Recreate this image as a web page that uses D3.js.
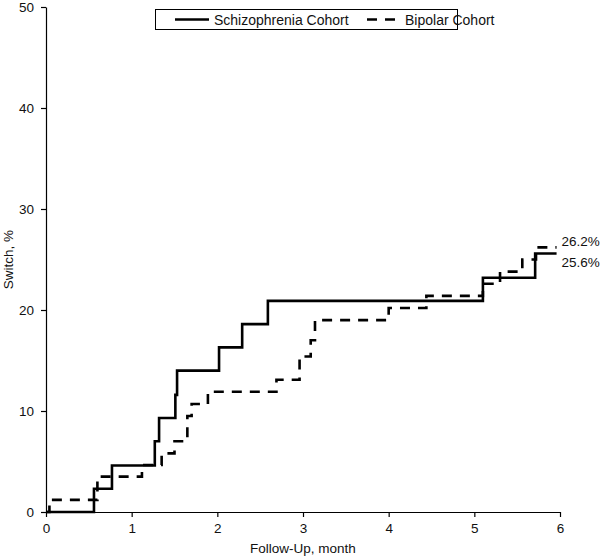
<!DOCTYPE html>
<html>
<head>
<meta charset="utf-8">
<script src="https://cdn.jsdelivr.net/npm/d3@7"></script>
<style>
  html, body { margin: 0; padding: 0; background: #fff; }
  svg { display: block; font-family: "Liberation Sans", Arial, Helvetica, sans-serif; }
</style>
</head>
<body>
<svg id="chart" width="600" height="557"></svg>
<script>
// ---- Data ----
const seriesNames = ["Schizophrenia Cohort", "Bipolar Cohort"];
const schizoTimes  = [0, 0.56, 0.77, 1.27, 1.32, 1.51, 1.53, 2.02, 2.29, 2.59, 5.10, 5.71, 5.96];
const schizoValues = [0, 2.3, 4.6, 7.0, 9.3, 11.6, 14.0, 16.3, 18.6, 20.9, 23.2, 25.6, 25.6];
const bipolarTimes  = [0, 0.04, 0.60, 1.12, 1.35, 1.50, 1.65, 1.70, 1.89, 2.69, 2.96, 3.09, 3.14, 4.00, 4.44, 5.10, 5.30, 5.56, 5.72, 5.96];
const bipolarValues = [0, 1.2, 3.5, 4.65, 5.8, 7.0, 9.5, 10.7, 11.9, 13.1, 15.4, 17.0, 19.0, 20.2, 21.4, 22.6, 23.8, 25.0, 26.2, 26.2];
const endLabels = ["25.6%", "26.2%"];
const xTicks = [0, 1, 2, 3, 4, 5, 6];
const yTicks = [0, 10, 20, 30, 40, 50];
const xTitle = "Follow-Up, month";
const yTitle = "Switch, %";

// ---- Layout ----
const svg = d3.select("#chart");
const mLeft = 46, mRight = 560, mTop = 7, mBottom = 512;
const fs = 13.5;
const x = d3.scaleLinear().domain([0, 6]).range([mLeft, mRight]);
const y = d3.scaleLinear().domain([0, 50]).range([mBottom, mTop]);

// Axes
const xAxis = svg.append("g").attr("transform", `translate(0,${mBottom})`)
  .call(d3.axisBottom(x).tickValues(xTicks).tickSize(5).tickPadding(4).tickSizeOuter(0).tickFormat(d3.format("d")));
const yAxis = svg.append("g").attr("transform", `translate(${mLeft},0)`)
  .call(d3.axisLeft(y).tickValues(yTicks).tickSize(5).tickPadding(7).tickSizeOuter(0).tickFormat(d3.format("d")));
[xAxis, yAxis].forEach(g => {
  g.selectAll("path.domain").attr("stroke", "#000").attr("stroke-width", 1.2);
  g.selectAll(".tick line").attr("stroke", "#000").attr("stroke-width", 1.2);
  g.selectAll(".tick text").attr("font-size", fs).attr("fill", "#111")
   .attr("font-family", "'Liberation Sans', Arial, sans-serif");
});
xAxis.selectAll(".tick text").attr("dy", "0.9em");

// Titles
svg.append("text").attr("x", (mLeft + mRight) / 2).attr("y", 553)
  .attr("text-anchor", "middle").attr("font-size", fs).attr("fill", "#111").text(xTitle);
svg.append("text").attr("transform", `translate(13,${(mTop + mBottom) / 2}) rotate(-90)`)
  .attr("text-anchor", "middle").attr("font-size", fs).attr("fill", "#111").text(yTitle);

// Lines
const line = d3.line().x(d => x(d[0])).y(d => y(d[1])).curve(d3.curveStepAfter);
const schizo = d3.zip(schizoTimes, schizoValues);
const bipolar = d3.zip(bipolarTimes, bipolarValues);

svg.append("path").datum(bipolar).attr("d", line)
  .attr("fill", "none").attr("stroke", "#000").attr("stroke-width", 2.6)
  .attr("stroke-dasharray", "10,8");
svg.append("path").datum(schizo).attr("d", line)
  .attr("fill", "none").attr("stroke", "#000").attr("stroke-width", 2.6);

// End labels
svg.append("text").attr("x", x(schizoTimes[schizoTimes.length - 1]) + 5)
  .attr("y", y(schizoValues[schizoValues.length - 1]) + 14)
  .attr("font-size", fs).attr("fill", "#111").text(endLabels[0]);
svg.append("text").attr("x", x(bipolarTimes[bipolarTimes.length - 1]) + 5)
  .attr("y", y(bipolarValues[bipolarValues.length - 1]) - 1)
  .attr("font-size", fs).attr("fill", "#111").text(endLabels[1]);

// Legend
const lg = svg.append("g");
lg.append("rect").attr("x", 155.5).attr("y", 9.5).attr("width", 302).attr("height", 20)
  .attr("fill", "#fff").attr("stroke", "#000").attr("stroke-width", 1);
lg.append("line").attr("x1", 175).attr("x2", 209).attr("y1", 19.5).attr("y2", 19.5)
  .attr("stroke", "#000").attr("stroke-width", 2.6);
lg.append("text").attr("x", 214).attr("y", 24.5).attr("font-size", 14).attr("fill", "#111").text(seriesNames[0]);
lg.append("line").attr("x1", 367).attr("x2", 397).attr("y1", 19.5).attr("y2", 19.5)
  .attr("stroke", "#000").attr("stroke-width", 2.6).attr("stroke-dasharray", "10,8");
lg.append("text").attr("x", 405).attr("y", 24.5).attr("font-size", 14).attr("fill", "#111").text(seriesNames[1]);
</script>
</body>
</html>
